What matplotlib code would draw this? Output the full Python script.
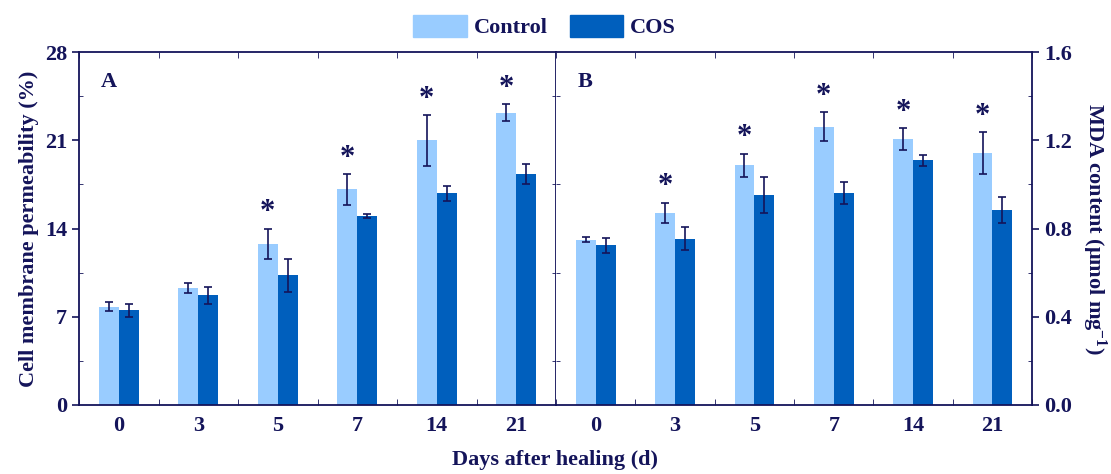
import numpy as np
import matplotlib
matplotlib.use('Agg')
import matplotlib.pyplot as plt
from matplotlib.ticker import MultipleLocator, FixedLocator
from matplotlib.patches import Patch

plt.rcParams['font.family'] = ['Liberation Serif', 'DejaVu Serif']
plt.rcParams['font.weight'] = 'bold'
plt.rcParams['mathtext.fontset'] = 'custom'
plt.rcParams['mathtext.rm'] = 'Liberation Serif:bold'
plt.rcParams['mathtext.it'] = 'Liberation Serif:bold'
plt.rcParams['mathtext.bf'] = 'Liberation Serif:bold'

# data
days = ['0', '3', '5', '7', '14', '21']
perm_ctrl = [7.8, 9.25, 12.8, 17.1, 21.0, 23.2]
perm_ctrl_err = [0.35, 0.4, 1.2, 1.2, 2.0, 0.65]
perm_cos = [7.5, 8.7, 10.3, 15.0, 16.8, 18.3]
perm_cos_err = [0.48, 0.7, 1.3, 0.15, 0.6, 0.8]
perm_star = [False, False, True, True, True, True]

mda_ctrl = [0.75, 0.87, 1.087, 1.262, 1.204, 1.141]
mda_ctrl_err = [0.01, 0.047, 0.053, 0.065, 0.05, 0.095]
mda_cos = [0.724, 0.754, 0.952, 0.96, 1.109, 0.885]
mda_cos_err = [0.035, 0.053, 0.083, 0.05, 0.024, 0.06]
mda_star = [False, True, True, True, True, True]

c_ctrl = '#99CCFF'
c_cos = '#005FBD'
navy = '#14145A'
fs = 16

fig = plt.figure(figsize=(11.11, 4.74), dpi=100)
axA = fig.add_axes([0.0711, 0.1456, 0.4294, 0.7444])
axB = fig.add_axes([0.5005, 0.1456, 0.4285, 0.7444])

x = np.arange(len(days))
w = 0.25


def draw(ax, ctrl, ctrl_err, cos, cos_err, star, ymax, major, minor):
    ax.bar(x - w / 2, ctrl, w, color=c_ctrl, zorder=2)
    ax.bar(x + w / 2, cos, w, color=c_cos, zorder=2)
    ax.errorbar(x - w / 2, ctrl, yerr=ctrl_err, fmt='none', ecolor=navy,
                elinewidth=1.2, capsize=3, capthick=1.2, zorder=3)
    ax.errorbar(x + w / 2, cos, yerr=cos_err, fmt='none', ecolor=navy,
                elinewidth=1.2, capsize=3, capthick=1.2, zorder=3)
    for i in range(len(days)):
        if star[i]:
            ax.annotate('*', (x[i] - w / 2, ctrl[i] + ctrl_err[i]),
                        xytext=(0, 1), textcoords='offset points',
                        ha='center', va='bottom', fontsize=22,
                        color=navy, fontweight='bold')
    ax.set_xlim(-0.5, 5.5)
    ax.set_ylim(0, ymax)
    ax.set_xticks(x)
    ax.set_xticklabels(days)
    ax.xaxis.set_minor_locator(FixedLocator(np.arange(-0.5, 5.6, 0.5)))
    ax.yaxis.set_major_locator(MultipleLocator(major))
    ax.yaxis.set_minor_locator(MultipleLocator(minor))
    for s in ax.spines.values():
        s.set_color(navy)
        s.set_linewidth(1.3)
    ax.tick_params(axis='x', which='major', length=0, pad=8,
                   labelsize=fs, colors=navy)
    ax.tick_params(axis='x', which='minor', direction='in', length=4,
                   top=True, bottom=True, color=navy)
    ax.tick_params(axis='y', which='major', labelsize=fs, colors=navy,
                   width=1.2, length=5)
    ax.tick_params(axis='y', which='minor', direction='in', length=3,
                   color=navy, left=True, right=True)


draw(axA, perm_ctrl, perm_ctrl_err, perm_cos, perm_cos_err, perm_star, 28, 7, 3.5)
draw(axB, mda_ctrl, mda_ctrl_err, mda_cos, mda_cos_err, mda_star, 1.6, 0.4, 0.2)

axA.tick_params(axis='y', which='major', direction='out', left=True, right=False)
axA.set_ylabel('Cell membrane permeability (%)', fontsize=fs, color=navy,
               fontweight='bold', labelpad=4)
axB.yaxis.tick_right()
axB.yaxis.set_label_position('right')
axB.tick_params(axis='y', which='major', direction='out', right=True,
                left=False, labelleft=False, labelright=True)
axB.tick_params(axis='y', which='minor', left=True, right=True)
axB.set_yticklabels(['%.1f' % v for v in axB.get_yticks()])
axB.set_ylabel('MDA content (\u03bcmol mg$^{-1}$)', fontsize=fs, color=navy,
               fontweight='bold', rotation=270, labelpad=26)
axB.spines['left'].set_visible(False)

axA.text(0.045, 0.945, 'A', transform=axA.transAxes, fontsize=16,
         color=navy, fontweight='bold', va='top')
axB.text(0.045, 0.945, 'B', transform=axB.transAxes, fontsize=16,
         color=navy, fontweight='bold', va='top')

fig.text(0.5, 0.008, 'Days after healing (d)', ha='center', va='bottom',
         fontsize=fs, color=navy, fontweight='bold')

handles = [Patch(color=c_ctrl, label='Control'), Patch(color=c_cos, label='COS')]
fig.legend(handles=handles, loc='upper center', bbox_to_anchor=(0.49, 1.01),
           ncol=2, frameon=False, fontsize=fs, handlelength=2.4,
           handleheight=1.1, columnspacing=1.0, handletextpad=0.3,
           labelcolor=navy)

fig.savefig('out.png', dpi=100)
